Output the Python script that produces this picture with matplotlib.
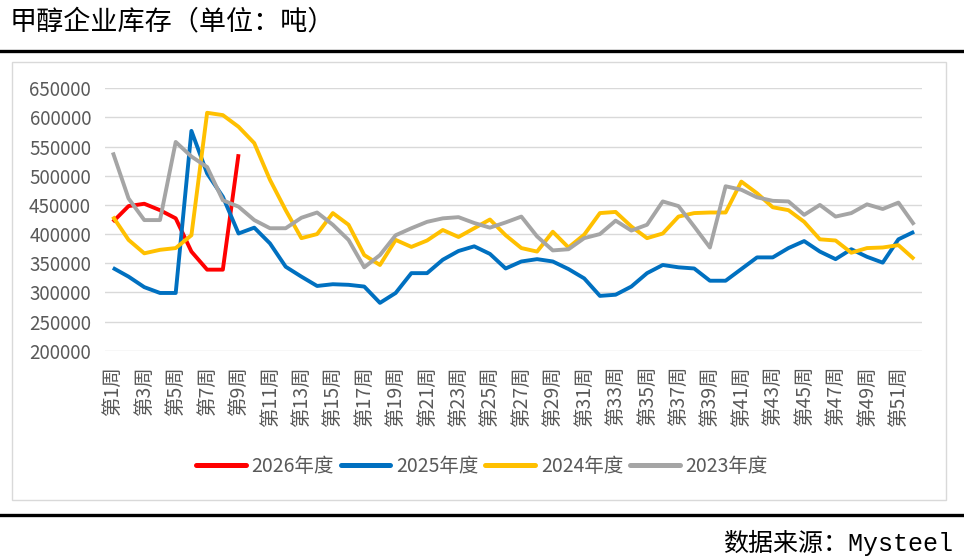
import matplotlib
matplotlib.use('Agg')
import matplotlib.pyplot as plt
from matplotlib.patches import Rectangle
from matplotlib.lines import Line2D

plt.rcParams['font.family'] = ['Noto Sans CJK SC', 'DejaVu Sans']

weeks = list(range(1, 53))
week_labels = [f'第{w}周' for w in weeks]
series_names = ['2026年度', '2025年度', '2024年度', '2023年度']
series_colors = ['#FF0000', '#0070C0', '#FFC000', '#A5A5A5']

inv_2026 = [421000, 448000, 452000, 441000, 427000, 370000, 339000, 339000, 537000]

inv_2025 = [342000, 327000, 309000, 299000, 299000, 577000, 504000, 464000, 401000, 411000,
            384000, 344000, 327000, 311000, 314000, 313000, 310000, 282000, 299000, 333000,
            333000, 356000, 371000, 379000, 366000, 341000, 353000, 357000, 353000, 340000,
            324000, 294000, 296000, 310000, 333000, 347000, 343000, 341000, 320000, 320000,
            340000, 360000, 360000, 376000, 388000, 370000, 357000, 374000, 361000, 351000,
            391000, 404000]

inv_2024 = [430000, 390000, 367000, 373000, 376000, 398000, 608000, 604000, 584000, 556000,
            493000, 441000, 393000, 400000, 436000, 416000, 364000, 347000, 390000, 378000,
            389000, 407000, 395000, 410000, 425000, 398000, 376000, 370000, 404000, 377000,
            399000, 436000, 438000, 413000, 393000, 401000, 430000, 436000, 437000, 437000,
            490000, 470000, 446000, 441000, 421000, 391000, 389000, 368000, 376000, 377000,
            381000, 357000]

inv_2023 = [540000, 461000, 424000, 424000, 558000, 533000, 515000, 458000, 447000, 424000,
            410000, 410000, 428000, 437000, 416000, 390000, 343000, 364000, 398000, 410000,
            421000, 427000, 429000, 419000, 411000, 420000, 430000, 396000, 372000, 374000,
            393000, 400000, 423000, 406000, 416000, 456000, 448000, 413000, 377000, 482000,
            476000, 463000, 457000, 456000, 433000, 450000, 430000, 436000, 451000, 443000,
            454000, 416000]

y_ticks = list(range(200000, 650001, 50000))

W, H = 964, 560
fig = plt.figure(figsize=(W / 100, H / 100), dpi=100)
ax = fig.add_axes([105 / W, (H - 350.7) / H, 817 / W, (350.7 - 88.3) / H])

all_series = [inv_2026, inv_2025, inv_2024, inv_2023]
for name, color, vals in zip(series_names, series_colors, all_series):
    ax.plot(weeks[:len(vals)], vals, color=color, lw=2.8, label=name,
            solid_joinstyle='round', solid_capstyle='butt')

ax.set_xlim(0.5, 52.5)
ax.set_ylim(200000, 650000)
ax.set_yticks(y_ticks)
ax.set_yticklabels([str(v) for v in y_ticks])
ax.set_xticks(weeks[::2])
ax.set_xticklabels(week_labels[::2], rotation=90, va='top', ha='center')
ax.tick_params(axis='both', length=0, colors='#595959')
ax.tick_params(axis='x', pad=11, labelsize=14)
ax.tick_params(axis='y', pad=10, labelsize=13.5)
for s in ax.spines.values():
    s.set_visible(False)
ax.grid(axis='y', color='#D9D9D9', lw=1)
ax.set_axisbelow(True)

leg = fig.legend(loc='center', bbox_to_anchor=(482 / W, (H - 466) / H), ncol=4,
                 frameon=False, fontsize=14, handlelength=2.55, columnspacing=0.35,
                 handletextpad=0.3)
for t in leg.get_texts():
    t.set_color('#595959')
for l in leg.get_lines():
    l.set_linewidth(3.6)
    l.set_solid_capstyle('round')

# outer chart box
fig.add_artist(Rectangle((12 / W, (H - 500) / H), (946 - 12) / W, (500 - 62) / H,
                         transform=fig.transFigure, fill=False, ec='#D9D9D9', lw=1))
# thick rules
fig.add_artist(Line2D([0, 1], [(H - 50.5) / H] * 2, transform=fig.transFigure,
                      color='black', lw=2.4))
fig.add_artist(Line2D([0, 1], [(H - 514.5) / H] * 2, transform=fig.transFigure,
                      color='black', lw=2.4))

fig.text(10 / W, (H - 22) / H, '甲醇企业库存（单位：吨）', fontsize=19.5, color='black',
         ha='left', va='center')
fig.text(953 / W, (H - 543) / H, '数据来源：Mysteel', fontsize=18, color='black',
         ha='right', va='center', family=['Liberation Mono', 'Noto Sans CJK SC'])

fig.savefig('out.png', dpi=100)
